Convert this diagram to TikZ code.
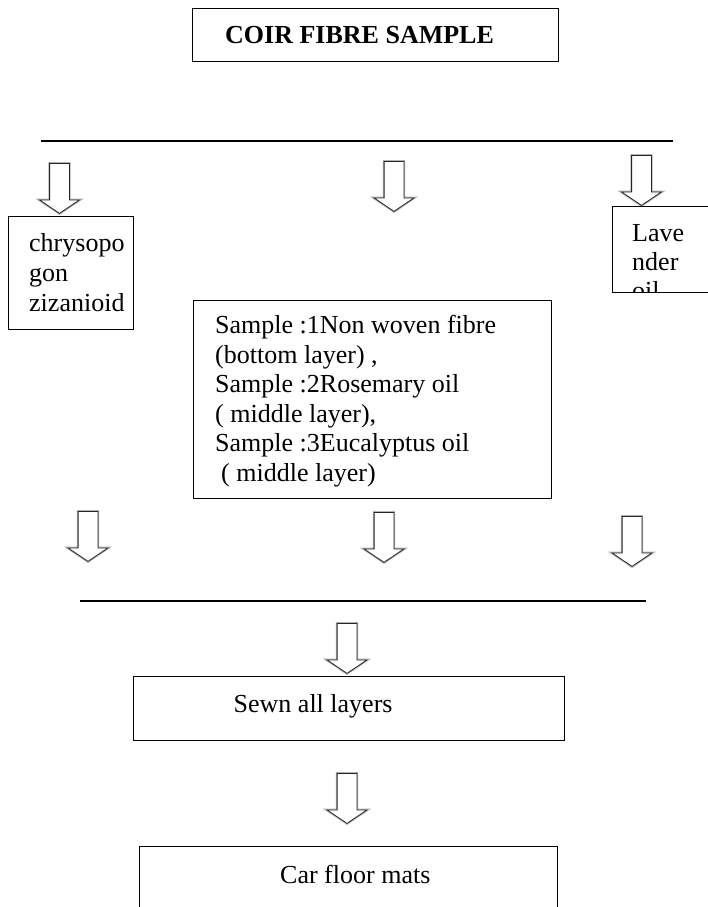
\documentclass[tikz,border=0pt]{standalone}
\usepackage{fontspec}
\setmainfont{Liberation Serif}
\usetikzlibrary{shapes.arrows}
\tikzset{
  boxs/.style={draw=black, line width=1.2pt, inner sep=0pt, anchor=north west},
  txt/.style={inner sep=0pt, anchor=north west, align=left, font=\fontsize{26}{30}\selectfont},
  barrow/.style={shape=single arrow, rotate=-90, anchor=tail, minimum height=50pt,
    minimum width=39pt, text width=0pt, text height=9.5pt, text depth=9.5pt,
    single arrow head extend=10pt, single arrow tip angle=112,
    single arrow head indent=0pt, inner sep=0pt, draw=black!85, line width=0.8pt,
    fill=white, preaction={draw=black!30, line width=2.6pt}},
  hline/.style={line width=1.5pt}
}
\newcommand\fh{\rule{0pt}{18pt}}
\begin{document}
\begin{tikzpicture}[x=1pt,y=-1pt]
\useasboundingbox (0,0) rectangle (707,907);
% title
\node[boxs, minimum width=366pt, minimum height=53pt] (title) at (192,8) {};
\node[txt, font=\fontsize{26}{30}\selectfont\bfseries, anchor=base west] (titletxt) at (225,43.5) {COIR FIBRE SAMPLE};
% top line
\coordinate (tl1) at (41,141);
\coordinate (tl2) at (673,141);
\draw[hline] (tl1) -- (tl2);
% top arrows
\node[barrow] (a1) at (59.5,163) {};
\node[barrow] (a2) at (394,161) {};
\node[barrow] (a3) at (641.5,155) {};
% left box
\node[boxs, minimum width=125pt, minimum height=113pt] (chryso) at (8,216) {};
\node[txt] (chrysotxt) at (29,233) {\fh chrysopo\\gon\\zizanioid};
% right box
\node[boxs, minimum width=100pt, minimum height=86pt] (laven) at (612,206) {};
\begin{scope}
\clip (612,206) rectangle (712,292);
\node[txt, font=\fontsize{26}{29}\selectfont] (laventxt) at (632,223) {\fh Lave\\nder\\oil};
\end{scope}
% middle box
\node[boxs, minimum width=358pt, minimum height=198pt] (samples) at (193,300) {};
\node[txt, font=\fontsize{26}{29.5}\selectfont] (samplestxt) at (215,315)
  {\fh Sample :1Non woven fibre\\(bottom layer) ,\\Sample :2Rosemary oil\\( middle layer),\\Sample :3Eucalyptus oil\\\hspace*{6pt}( middle layer)};
% bottom arrows
\node[barrow] (b1) at (88,511) {};
\node[barrow] (b2) at (384,512) {};
\node[barrow] (b3) at (632,516) {};
% bottom line
\coordinate (bl1) at (80,601);
\coordinate (bl2) at (646,601);
\draw[hline] (bl1) -- (bl2);
% sewn
\node[barrow] (c1) at (347,623) {};
\node[boxs, minimum width=431pt, minimum height=64pt] (sewn) at (133,676) {};
\node[txt, anchor=base west] (sewntxt) at (233.5,712) {Sewn all layers};
% car mats
\node[barrow] (c2) at (347,773) {};
\node[boxs, minimum width=418pt, minimum height=80pt] (car) at (139,846) {};
\node[txt, anchor=base west] (cartxt) at (280,883) {Car floor mats};
\end{tikzpicture}
\end{document}
